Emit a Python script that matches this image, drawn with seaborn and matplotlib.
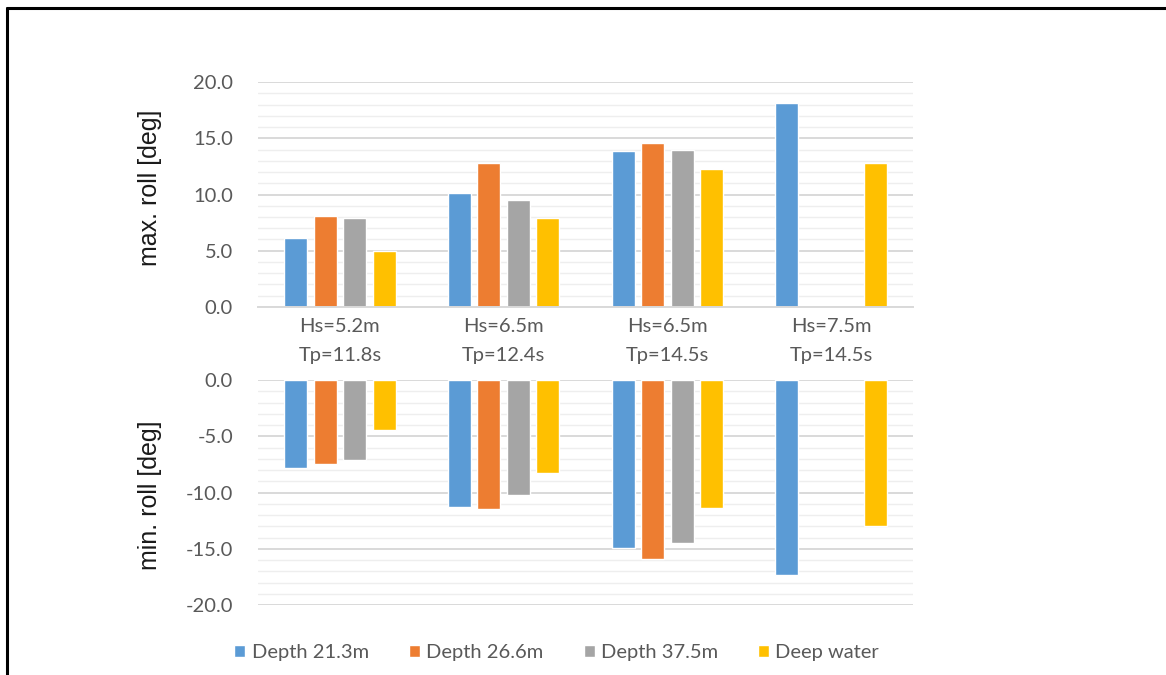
import numpy as np
import pandas as pd
import seaborn as sns
import matplotlib.pyplot as plt
from matplotlib.lines import Line2D
from matplotlib.ticker import MultipleLocator

# data
cases = ["Hs=5.2m\nTp=11.8s", "Hs=6.5m\nTp=12.4s", "Hs=6.5m\nTp=14.5s", "Hs=7.5m\nTp=14.5s"]
series = ["Depth 21.3m", "Depth 26.6m", "Depth 37.5m", "Deep water"]
colors = ["#5B9BD5", "#ED7D31", "#A5A5A5", "#FFC000"]

max_d213 = [6.1, 10.1, 13.9, 18.1]
max_d266 = [8.1, 12.8, 14.6, np.nan]
max_d375 = [7.9, 9.5, 14.0, np.nan]
max_deep = [5.0, 7.9, 12.3, 12.8]

min_d213 = [-7.8, -11.3, -14.9, -17.3]
min_d266 = [-7.45, -11.5, -15.9, np.nan]
min_d375 = [-7.1, -10.2, -14.5, np.nan]
min_deep = [-4.4, -8.3, -11.35, -13.0]


def tidy(cols):
    rows = []
    for name, vals in zip(series, cols):
        for c, v in zip(cases, vals):
            if not np.isnan(v):
                rows.append({"case": c, "series": name, "value": v})
    return pd.DataFrame(rows)


df_max = tidy([max_d213, max_d266, max_d375, max_deep])
df_min = tidy([min_d213, min_d266, min_d375, min_deep])

sns.set_style("white")
plt.rcParams["font.family"] = ["Lato", "DejaVu Sans"]

tick_col = "#595959"
fs = 14.5
fig = plt.figure(figsize=(11.66, 6.75), dpi=100)
ax1 = fig.add_axes([0.2213, 0.5452, 0.5617, 0.3333])
ax2 = fig.add_axes([0.2213, 0.1037, 0.5617, 0.3333])

pal = dict(zip(series, colors))
for ax, df in [(ax1, df_max), (ax2, df_min)]:
    sns.barplot(data=df, x="case", y="value", hue="series", order=cases,
                hue_order=series, palette=pal, width=0.72, gap=0.22,
                saturation=1, legend=(ax is ax2), ax=ax)
    ax.set_xlim(-0.5, 3.5)
    ax.yaxis.set_major_locator(MultipleLocator(5))
    ax.yaxis.set_minor_locator(MultipleLocator(1))
    ax.grid(True, which="major", axis="y", color="#d9d9d9", lw=1.4)
    ax.grid(True, which="minor", axis="y", color="#eeeeee", lw=1.0)
    ax.set_axisbelow(True)
    ax.tick_params(axis="y", which="both", length=0, labelsize=fs,
                   labelcolor=tick_col, pad=18)
    ax.yaxis.set_major_formatter(lambda v, p: f"{v:.1f}")
    for s in ax.spines.values():
        s.set_visible(False)
    ax.set_xlabel("")

ax1.set_ylim(0, 20)
ax2.set_ylim(-20, 0)
ax1.spines["bottom"].set_visible(True)
ax1.spines["bottom"].set_color("#d9d9d9")
ax1.spines["bottom"].set_linewidth(1.4)
ax1.tick_params(axis="x", length=0, labelsize=fs, labelcolor=tick_col, pad=8)
for t in ax1.get_xticklabels():
    t.set_linespacing(1.85)
ax2.tick_params(axis="x", length=0, labelbottom=False)

ax1.set_ylabel("max. roll [deg]", fontsize=18, family="Liberation Sans", color="#1a1a1a")
ax2.set_ylabel("min. roll [deg]", fontsize=18, family="Liberation Sans", color="#1a1a1a")
ax1.yaxis.set_label_coords(-0.147, 0.53)
ax2.yaxis.set_label_coords(-0.147, 0.49)

leg = ax2.legend(loc="center", bbox_to_anchor=(0.456, -0.21), ncol=4, frameon=False,
                 fontsize=fs, handlelength=0.55, handleheight=0.55,
                 handletextpad=0.3, columnspacing=2.0)
for t in leg.get_texts():
    t.set_color(tick_col)

# outer frame lines of the screenshot
fig.add_artist(Line2D([7 / 1166, 1.0], [1 - 8 / 675, 1 - 8 / 675], color="black", lw=2.2))
fig.add_artist(Line2D([7 / 1166, 7 / 1166], [0, 1 - 8 / 675], color="black", lw=2.2))

fig.savefig("out.png", dpi=100)
